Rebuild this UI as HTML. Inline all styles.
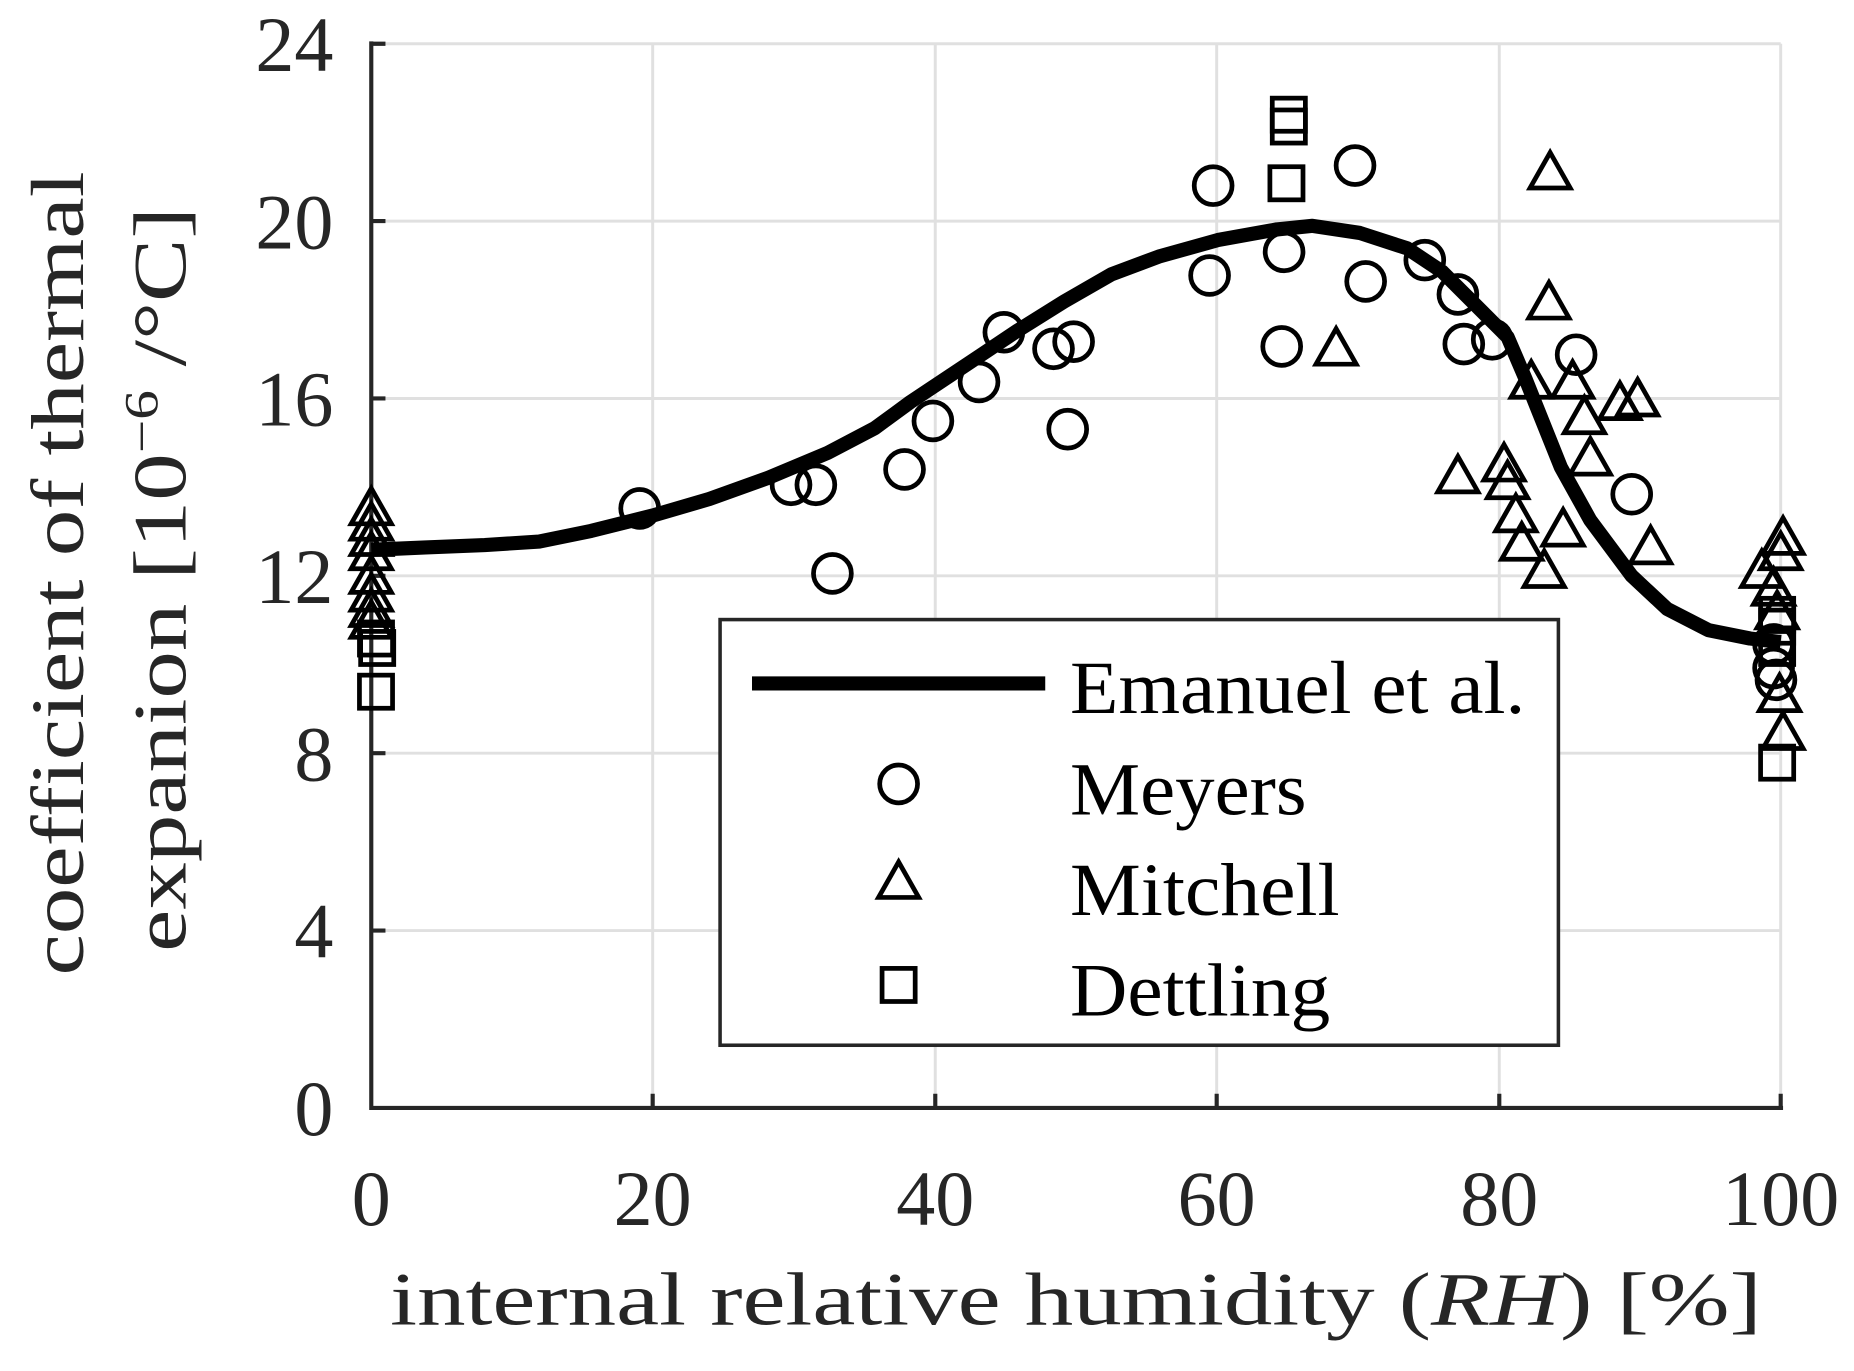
<!DOCTYPE html>
<html><head><style>body{margin:0;background:#fff}svg{display:block}</style></head><body>
<svg width="1854" height="1371" viewBox="0 0 1568 1159.5" xmlns="http://www.w3.org/2000/svg" font-family="Liberation Serif, serif" fill="#262626">
<defs>
<circle id="c" r="16" fill="none" stroke="#000" stroke-width="4"/>
<path id="t" d="M0,-19 L17,11 L-17,11 Z" fill="none" stroke="#000" stroke-width="4"/>
<rect id="s" x="-14" y="-14" width="28" height="28" fill="none" stroke="#000" stroke-width="4"/>
</defs>
<g stroke="#e0e0e0" stroke-width="2.5">
<line x1="314" y1="37" x2="1506" y2="37"/><line x1="314" y1="187" x2="1506" y2="187"/><line x1="314" y1="337" x2="1506" y2="337"/><line x1="314" y1="487" x2="1506" y2="487"/><line x1="314" y1="637" x2="1506" y2="637"/><line x1="314" y1="787" x2="1506" y2="787"/>
<line x1="552" y1="37" x2="552" y2="937"/><line x1="791" y1="37" x2="791" y2="937"/><line x1="1029" y1="37" x2="1029" y2="937"/><line x1="1268" y1="37" x2="1268" y2="937"/><line x1="1506" y1="37" x2="1506" y2="937"/>
</g>
<g stroke="#262626" stroke-width="3.5" fill="none">
<path d="M314,35 V937 H1508"/>
<path d="M314,37h12M314,187h12M314,337h12M314,487h12M314,637h12M314,787h12M552,937v-12M791,937v-12M1029,937v-12M1268,937v-12M1506,937v-12"/>
</g>
<g font-size="66" text-anchor="end">
<text x="282" y="60">24</text><text x="282" y="210">20</text><text x="282" y="360">16</text><text x="282" y="510">12</text><text x="282" y="660">8</text><text x="282" y="810">4</text><text x="282" y="960">0</text>
</g>
<g font-size="66" text-anchor="middle">
<text x="314" y="1036">0</text><text x="552" y="1036">20</text><text x="791" y="1036">40</text><text x="1029" y="1036">60</text><text x="1268" y="1036">80</text><text x="1506" y="1036">100</text>
</g>
<g font-size="64">
<text x="330" y="1120" textLength="1160" lengthAdjust="spacingAndGlyphs">internal relative humidity (<tspan font-style="italic">RH</tspan>) [%]</text>
<text transform="translate(70,825) rotate(-90)" textLength="680" lengthAdjust="spacingAndGlyphs">coefficient of thermal</text>
<text transform="translate(157,805) rotate(-90)" textLength="630" lengthAdjust="spacingAndGlyphs">expanion [10<tspan font-size="40" dy="-24">−6</tspan><tspan dy="24"> /°C]</tspan></text>
</g>
<path d="M314,465 L360,463 L410,461 L456,458 L500,449 L552,436 L600,422 L650,404 L700,383 L740,362 L770,340 L800,320 L830,300 L860,280 L900,255 L940,232 L980,217 L1030,203 L1080,194 L1110,191 L1150,197 L1190,210 L1220,230 L1250,260 L1275,285 L1290,320 L1300,345 L1320,395 L1345,440 L1380,487 L1410,515 L1445,533 L1480,540 L1506,543" fill="none" stroke="#000" stroke-width="12" stroke-linejoin="round"/>
<g>
<use href="#c" x="541" y="430"/><use href="#c" x="669" y="410"/><use href="#c" x="690" y="410"/><use href="#c" x="704" y="485"/><use href="#c" x="765" y="397"/><use href="#c" x="789" y="356"/><use href="#c" x="828" y="323"/><use href="#c" x="849" y="281"/><use href="#c" x="891" y="295"/><use href="#c" x="908" y="289"/><use href="#c" x="903" y="363"/><use href="#c" x="1026" y="157"/><use href="#c" x="1023" y="233"/><use href="#c" x="1086" y="213"/><use href="#c" x="1084" y="293"/><use href="#c" x="1146" y="140"/><use href="#c" x="1155" y="238"/><use href="#c" x="1205" y="220"/><use href="#c" x="1233" y="249"/><use href="#c" x="1238" y="291"/><use href="#c" x="1262" y="287"/><use href="#c" x="1333" y="300"/><use href="#c" x="1380" y="418"/><use href="#c" x="1500" y="565"/><use href="#c" x="1502" y="575"/><use href="#c" x="1500" y="545"/>
<use href="#t" x="314" y="432"/><use href="#t" x="314" y="445"/><use href="#t" x="314" y="458"/><use href="#t" x="314" y="470"/><use href="#t" x="314" y="490"/><use href="#t" x="314" y="505"/><use href="#t" x="314" y="518"/><use href="#t" x="314" y="528"/><use href="#t" x="1130" y="297"/><use href="#t" x="1311" y="148"/><use href="#t" x="1310" y="258"/><use href="#t" x="1295" y="325"/><use href="#t" x="1330" y="325"/><use href="#t" x="1340" y="355"/><use href="#t" x="1345" y="390"/><use href="#t" x="1233" y="405"/><use href="#t" x="1272" y="395"/><use href="#t" x="1275" y="410"/><use href="#t" x="1282" y="438"/><use href="#t" x="1287" y="462"/><use href="#t" x="1306" y="485"/><use href="#t" x="1322" y="450"/><use href="#t" x="1370" y="343"/><use href="#t" x="1385" y="340"/><use href="#t" x="1396" y="465"/><use href="#t" x="1490" y="485"/><use href="#t" x="1508" y="457"/><use href="#t" x="1506" y="470"/><use href="#t" x="1500" y="500"/><use href="#t" x="1503" y="520"/><use href="#t" x="1505" y="590"/><use href="#t" x="1508" y="622"/>
<use href="#s" x="1090" y="97"/><use href="#s" x="1090" y="107"/><use href="#s" x="1088" y="155"/><use href="#s" x="318" y="585"/><use href="#s" x="319" y="548"/><use href="#s" x="318" y="540"/><use href="#s" x="1503" y="645"/><use href="#s" x="1503" y="520"/><use href="#s" x="1503" y="530"/><use href="#s" x="1503" y="548"/>
</g>
<rect x="609" y="524" width="709" height="360" fill="#fff" stroke="#262626" stroke-width="3"/>
<line x1="636" y1="578" x2="884" y2="578" stroke="#000" stroke-width="12"/>
<use href="#c" x="760" y="663"/><use href="#t" x="760" y="748"/><use href="#s" x="760" y="833"/>
<g font-size="64" fill="#000">
<text x="905" y="603" textLength="385" lengthAdjust="spacingAndGlyphs">Emanuel et al.</text>
<text x="905" y="689" textLength="200" lengthAdjust="spacingAndGlyphs">Meyers</text>
<text x="905" y="774" textLength="228" lengthAdjust="spacingAndGlyphs">Mitchell</text>
<text x="905" y="859" textLength="220" lengthAdjust="spacingAndGlyphs">Dettling</text>
</g>
</svg>
</body></html>
